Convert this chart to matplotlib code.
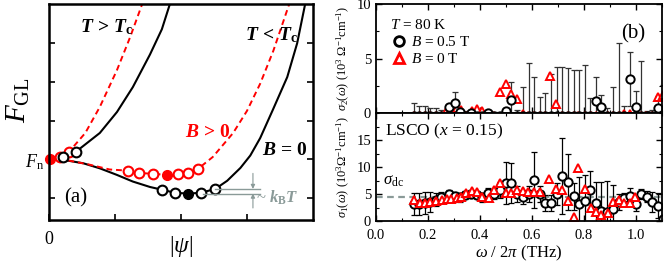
"""Ginzburg-Landau free energy sketch (a) and THz conductivity of LSCO (b)."""
import matplotlib
matplotlib.use("Agg")
import matplotlib.pyplot as plt
from matplotlib.lines import Line2D
import matplotlib.ticker as mticker

plt.rcParams.update({
    "font.family": "Liberation Serif",
    "mathtext.fontset": "custom",
    "mathtext.rm": "Liberation Serif",
    "mathtext.it": "Liberation Serif:italic",
    "mathtext.bf": "Liberation Serif:bold",
    "mathtext.bfit": "Liberation Serif:bold:italic",
    "font.size": 10.5,
    "xtick.direction": "in",
    "ytick.direction": "in",
})

# ---------------- panel (a): free-energy curves (tick units) ----------------
gl_above_x = [0.0, 0.21, 0.41, 0.77, 1.03, 1.27, 1.53, 1.71, 1.83]
gl_above_y = [0.0, 0.06, 0.20, 0.68, 1.22, 1.86, 2.70, 3.35, 3.99]
gl_above_red_x = [0.0, 0.17, 0.30, 0.55, 0.77, 1.03, 1.23, 1.41]
gl_above_red_y = [0.0, 0.06, 0.19, 0.68, 1.35, 2.30, 3.15, 3.99]

gl_b0_x = [0.0, 0.21, 0.52, 0.77, 1.03, 1.27, 1.53, 1.71, 1.91, 2.11, 2.30,
           2.52, 2.70, 2.90, 3.05, 3.20, 3.39, 3.61, 3.76, 3.88]
gl_b0_y = [0.0, -0.01, -0.10, -0.23, -0.40, -0.57, -0.71, -0.78, -0.86, -0.88,
           -0.86, -0.76, -0.55, -0.22, 0.10, 0.55, 1.27, 2.12, 2.99, 3.99]
gl_bpos_x = [0.0, 0.30, 0.60, 0.92, 1.20, 1.36, 1.58, 1.79, 1.95, 2.11, 2.26,
             2.48, 2.79, 3.00, 3.20, 3.40, 3.55, 3.65]
gl_bpos_y = [0.0, -0.03, -0.13, -0.26, -0.29, -0.35, -0.37, -0.40, -0.37,
             -0.35, -0.24, 0.06, 0.68, 1.25, 1.95, 2.80, 3.55, 4.05]

# marked states along the curves
pts_black_x = [0.21, 0.41, 1.71, 1.91, 2.30, 2.52]
pts_black_y = [0.06, 0.20, -0.78, -0.86, -0.86, -0.76]
pts_red_x = [0.17, 0.30, 1.20, 1.36, 1.58, 1.95, 2.11, 2.26]
pts_red_y = [0.06, 0.19, -0.29, -0.35, -0.37, -0.37, -0.35, -0.24]
min_black = (2.11, -0.88)
min_red = (1.79, -0.40)
fn_point = (0.02, 0.0)

# ---------------- panel (b): conductivity data ----------------
x_black = [0.145, 0.166, 0.187, 0.208, 0.229, 0.251, 0.279, 0.302, 0.323,
           0.344, 0.366, 0.387, 0.409, 0.431, 0.453, 0.476, 0.499, 0.520,
           0.542, 0.564, 0.587, 0.609, 0.630, 0.651, 0.673, 0.695, 0.716,
           0.738, 0.760, 0.781, 0.802, 0.824, 0.845, 0.867, 0.889, 0.912,
           0.934, 0.955, 0.976, 0.999, 1.021, 1.042, 1.063, 1.085, 1.105]
s1_black = [3.1, 3.2, 3.3, 3.5, 3.9, 4.5, 5.0, 4.6, 4.4, 4.8, 5.0, 4.8, 4.4,
            5.1, 5.0, 5.7, 7.0, 7.0, 5.0, 4.5, 5.0, 7.6, 5.0, 3.3, 3.4, 5.0,
            8.3, 7.3, 4.6, 3.1, 3.7, 5.7, 3.3, 1.9, 1.7, 2.2, 3.5, 4.2, 4.7,
            3.1, 5.0, 4.5, 3.5, 2.8, 0.3]
s1_black_err = [2.0, 2.0, 2.0, 1.8, 1.2, 0.8, 0.7, 0.7, 0.8, 0.8, 0.8, 0.8,
                0.8, 1.0, 1.0, 1.5, 3.9, 3.7, 1.5, 1.3, 1.5, 5.2, 1.5, 1.5,
                1.5, 2.0, 7.0, 5.2, 2.5, 5.0, 4.8, 3.5, 4.0, 5.3, 5.8, 4.5,
                1.5, 1.0, 1.5, 1.2, 1.0, 1.0, 1.8, 2.3, 0.5]
s2_black = [-0.3, -0.3, -0.3, -0.3, -0.3, -0.3, 0.52, 0.89, 0.1, -0.3, 0.0,
            -0.3, -0.3, 0.0, -0.3, -0.3, 0.15, 1.19, -0.3, -0.3, -0.3, -0.3,
            -0.3, -0.3, -0.3, -0.3, -0.3, -0.3, -0.3, -0.3, -0.3, -0.3, 1.1,
            0.52, -0.3, -0.3, -0.3, -0.3, 3.12, 0.58, -0.3, -0.3, -0.3, 0.43,
            -0.3]
s2_black_err = [1.2, 0.9, 0.9, 0.8, 0.8, 0.6, 0.3, 1.06, 0.3, 0.5, 0.3, 0.4,
                0.4, 0.2, 0.4, 0.4, 0.3, 1.65, 0.6, 2.7, 4.9, 3.6, 1.8, 2.1,
                3.9, 4.55, 4.5, 4.4, 4.2, 4.2, 4.7, 1.7, 2.2, 1.13, 0.8, 2.7,
                6.7, 0.9, 2.5, 1.4, 5.1, 0.5, 0.6, 1.1, 2.9]

x_red1 = [0.145, 0.168, 0.190, 0.209, 0.231, 0.252, 0.272, 0.290, 0.310,
          0.328, 0.347, 0.368, 0.390, 0.409, 0.433, 0.454, 0.477, 0.499,
          0.521, 0.542, 0.564, 0.585, 0.609, 0.632, 0.667, 0.692, 0.714,
          0.738, 0.760, 0.776, 0.802, 0.825, 0.847, 0.867, 0.892, 0.912,
          0.934, 0.954, 0.976, 0.998]
s1_red = [3.9, 3.4, 3.4, 3.5, 3.7, 3.9, 4.0, 4.1, 4.3, 4.4, 5.2, 5.6, 5.3,
          4.4, 4.3, 5.7, 7.1, 5.2, 5.2, 5.7, 5.6, 5.3, 5.3, 5.3, 7.7, 5.9,
          5.7, 3.7, 0.8, 9.9, 5.9, 2.5, 1.6, 1.1, 1.4, 3.6, 3.9, 3.4, 3.4,
          4.4]

x_red2 = [0.145, 0.168, 0.190, 0.209, 0.231, 0.252, 0.272, 0.290, 0.310,
          0.328, 0.347, 0.368, 0.390, 0.409, 0.433, 0.454, 0.477, 0.499,
          0.521, 0.542, 0.564, 0.585, 0.609, 0.632, 0.650, 0.670, 0.692,
          0.714, 0.738, 0.760, 0.776, 0.802, 0.825, 0.847, 0.867, 0.892,
          0.912, 0.934, 0.954, 0.976, 0.998, 1.020, 1.040, 1.062, 1.083,
          1.105]
s2_red = [-0.3, -0.3, -0.3, -0.3, -0.3, -0.3, 0.28, 0.49, 0.45, 0.3, -0.3,
          0.15, 0.34, 0.15, -0.3, -0.3, 1.9, 2.66, 1.74, 1.26, -0.1, -0.3,
          -0.3, -0.3, -0.3, 3.39, 0.8, -0.3, -0.3, -0.3, -0.3, -0.3, -0.3,
          -0.3, -0.3, -0.3, -0.3, -0.3, -0.1, -0.1, -0.3, -0.3, -0.3, -0.3,
          1.44, 1.65]

sigma_dc = 4.4

GRAY = "#8a9a98"

fig = plt.figure(figsize=(6.65, 2.65), dpi=100)

# ── (a) ──
ax = fig.add_axes([49 / 665, 1 - 220 / 265, 264 / 665, 216 / 265])
ax.plot(gl_above_x, gl_above_y, "-", color="black", lw=1.5)
ax.plot(gl_above_red_x, gl_above_red_y, "--", color="red", lw=1.4,
        dashes=(3, 2))
ax.plot(gl_b0_x, gl_b0_y, "-", color="black", lw=1.5)
ax.plot(gl_bpos_x, gl_bpos_y, "--", color="red", lw=1.4, dashes=(3, 2))
ax.plot(pts_red_x, pts_red_y, "o", ms=7, mfc="white", mec="red", mew=1.5)
ax.plot(pts_black_x, pts_black_y, "o", ms=7, mfc="white", mec="black",
        mew=1.5)
ax.plot(*min_black, "o", ms=7, color="black")
ax.plot(*min_red, "o", ms=7, color="red")
ax.plot(*fn_point, "o", ms=7, color="red", clip_on=False)

# energy-scale annotation
ax.plot([2.52, 3.20], [-0.76, -0.76], color=GRAY, lw=1.0)
ax.plot([2.33, 3.20], [-0.88, -0.88], color=GRAY, lw=1.0)
ax.annotate("", xy=(3.09, -0.76), xytext=(3.09, -0.36),
            arrowprops=dict(arrowstyle="-|>", color=GRAY, lw=0.8,
                            mutation_scale=6, shrinkA=0, shrinkB=0))
ax.annotate("", xy=(3.09, -0.88), xytext=(3.09, -1.25),
            arrowprops=dict(arrowstyle="-|>", color=GRAY, lw=0.8,
                            mutation_scale=6, shrinkA=0, shrinkB=0))
ax.text(3.14, -1.0, r"~ $\mathbfit{k}_{\mathbf{B}}\mathbfit{T}$", color=GRAY,
        fontsize=12, va="center", ha="left")

bold = dict(fontsize=14, va="center", ha="left")
ax.text(0.47, 3.40, r"$\mathbfit{T}\,\mathbf{>}\,\mathbfit{T}_{\mathbf{c}}$",
        **bold)
ax.text(2.97, 3.19, r"$\mathbfit{T}\,\mathbf{<}\,\mathbfit{T}_{\mathbf{c}}$",
        **bold)
ax.text(2.06, 0.70, r"$\mathbfit{B}\,\mathbf{>}\,\mathbf{0}$", color="red",
        **bold)
ax.text(3.23, 0.24, r"$\mathbfit{B}\,\mathbf{=}\,\mathbf{0}$", **bold)
ax.text(0.41, -0.99, "(a)", fontsize=15, ha="center", va="center")

ax.set_xlim(0, 4)
ax.set_ylim(-1.56, 4)
ax.set_xticks([0, 1, 2, 3])
ax.set_xticklabels(["0", "", "", ""], fontsize=13)
ax.set_yticks([-1, 0, 1, 2, 3])
ax.set_yticklabels(["", r"$F_{\rm n}$", "", "", ""], fontsize=13)
ax.tick_params(axis="both", length=4, width=1.2, right=True)
ax.tick_params(axis="x", pad=8)
for s in ax.spines.values():
    s.set_linewidth(1.8)
ax.set_xlabel(r"$|\psi|$", fontsize=17)
ax.xaxis.set_label_coords(0.5, -0.065)
fig.text(18 / 665, 1 - 100 / 265, r"$F_{\rm GL}$", fontsize=21,
         rotation=90, ha="center", va="center")

# ── (b) top: sigma_2 ──
axt = fig.add_axes([376 / 665, 1 - 113 / 265, 286 / 665, 109 / 265])
axb = fig.add_axes([376 / 665, 1 - 221 / 265, 286 / 665, 108 / 265],
                   sharex=axt)

axt.errorbar(x_black, s2_black, yerr=s2_black_err, fmt="none", ecolor="#333333",
             elinewidth=0.9, capsize=2, capthick=0.9)
axt.plot(x_red2, s2_red, "^", ms=6, mfc="white", mec="red", mew=1.4)
axt.plot(x_black, s2_black, "o", ms=6, mfc="white", mec="black", mew=1.4)
axt.set_ylim(0, 10)
axt.set_yticks([0, 5, 10])
axt.yaxis.set_minor_locator(mticker.MultipleLocator(2.5))
axt.tick_params(axis="x", which="both", labelbottom=False, top=True)
axt.tick_params(which="both", right=True)
axt.set_ylabel(r"$\sigma_2(\omega)$ (10$^3$ $\Omega^{-1}$cm$^{-1}$)",
               fontsize=9)
axt.yaxis.set_label_coords(-0.085, 0.5)
axt.text(0.90, 0.73, "(b)", transform=axt.transAxes, fontsize=15,
         ha="center", va="center")

handles = [
    Line2D([], [], ls="none", marker="o", ms=7, mfc="white", mec="black",
           mew=2.0),
    Line2D([], [], ls="none", marker="^", ms=7, mfc="white", mec="red",
           mew=2.0),
]
leg = axt.legend(handles, [r"$B$ = 0.5 T", r"$B$ = 0 T"],
                 title=r"$T$ = 80 K", loc="upper left", frameon=False,
                 fontsize=11, title_fontsize=11, alignment="left",
                 handletextpad=0.2, handlelength=1.2, labelspacing=0.2,
                 borderaxespad=0.3, bbox_to_anchor=(0.01, 0.97))

# ── (b) bottom: sigma_1 ──
axb.axhline(sigma_dc, color=GRAY, lw=1.6, ls="--", dashes=(3, 2), zorder=1)
axb.errorbar(x_black, s1_black, yerr=s1_black_err, fmt="none", ecolor="black",
             elinewidth=0.9, capsize=2, capthick=0.9)
axb.plot(x_black, s1_black, "o", ms=6, mfc="white", mec="black", mew=1.4)
axb.plot(x_red1, s1_red, "^", ms=6, mfc="white", mec="red", mew=1.4)
axb.set_ylim(0, 20)
axb.set_yticks([0, 5, 10, 15])
axb.yaxis.set_minor_locator(mticker.MultipleLocator(2.5))
axb.set_xlim(0, 1.1)
axb.xaxis.set_major_locator(mticker.MultipleLocator(0.2))
axb.xaxis.set_major_formatter(mticker.FormatStrFormatter("%.1f"))
axb.xaxis.set_minor_locator(mticker.MultipleLocator(0.1))
axb.tick_params(which="both", right=True, top=True)
axb.tick_params(axis="x", pad=6)
axb.set_ylabel(r"$\sigma_1(\omega)$ (10$^3$$\Omega^{-1}$cm$^{-1}$)",
               fontsize=9)
axb.yaxis.set_label_coords(-0.085, 0.5)
axb.set_xlabel(r"$\omega$ / 2$\pi$ (THz)", fontsize=12, labelpad=1)
axb.text(0.03, 0.83, r"LSCO ($x$ = 0.15)", transform=axb.transAxes,
         fontsize=12.5, ha="left", va="center")
axb.text(0.027, 7.4, r"$\sigma_{\rm dc}$", fontsize=12, ha="left",
         va="center")

for a in (axt, axb):
    a.tick_params(which="major", length=4, width=1.0)
    a.tick_params(which="minor", length=2.5, width=0.8)
    for s in a.spines.values():
        s.set_linewidth(1.3)

fig.savefig("out.png", dpi=100)
